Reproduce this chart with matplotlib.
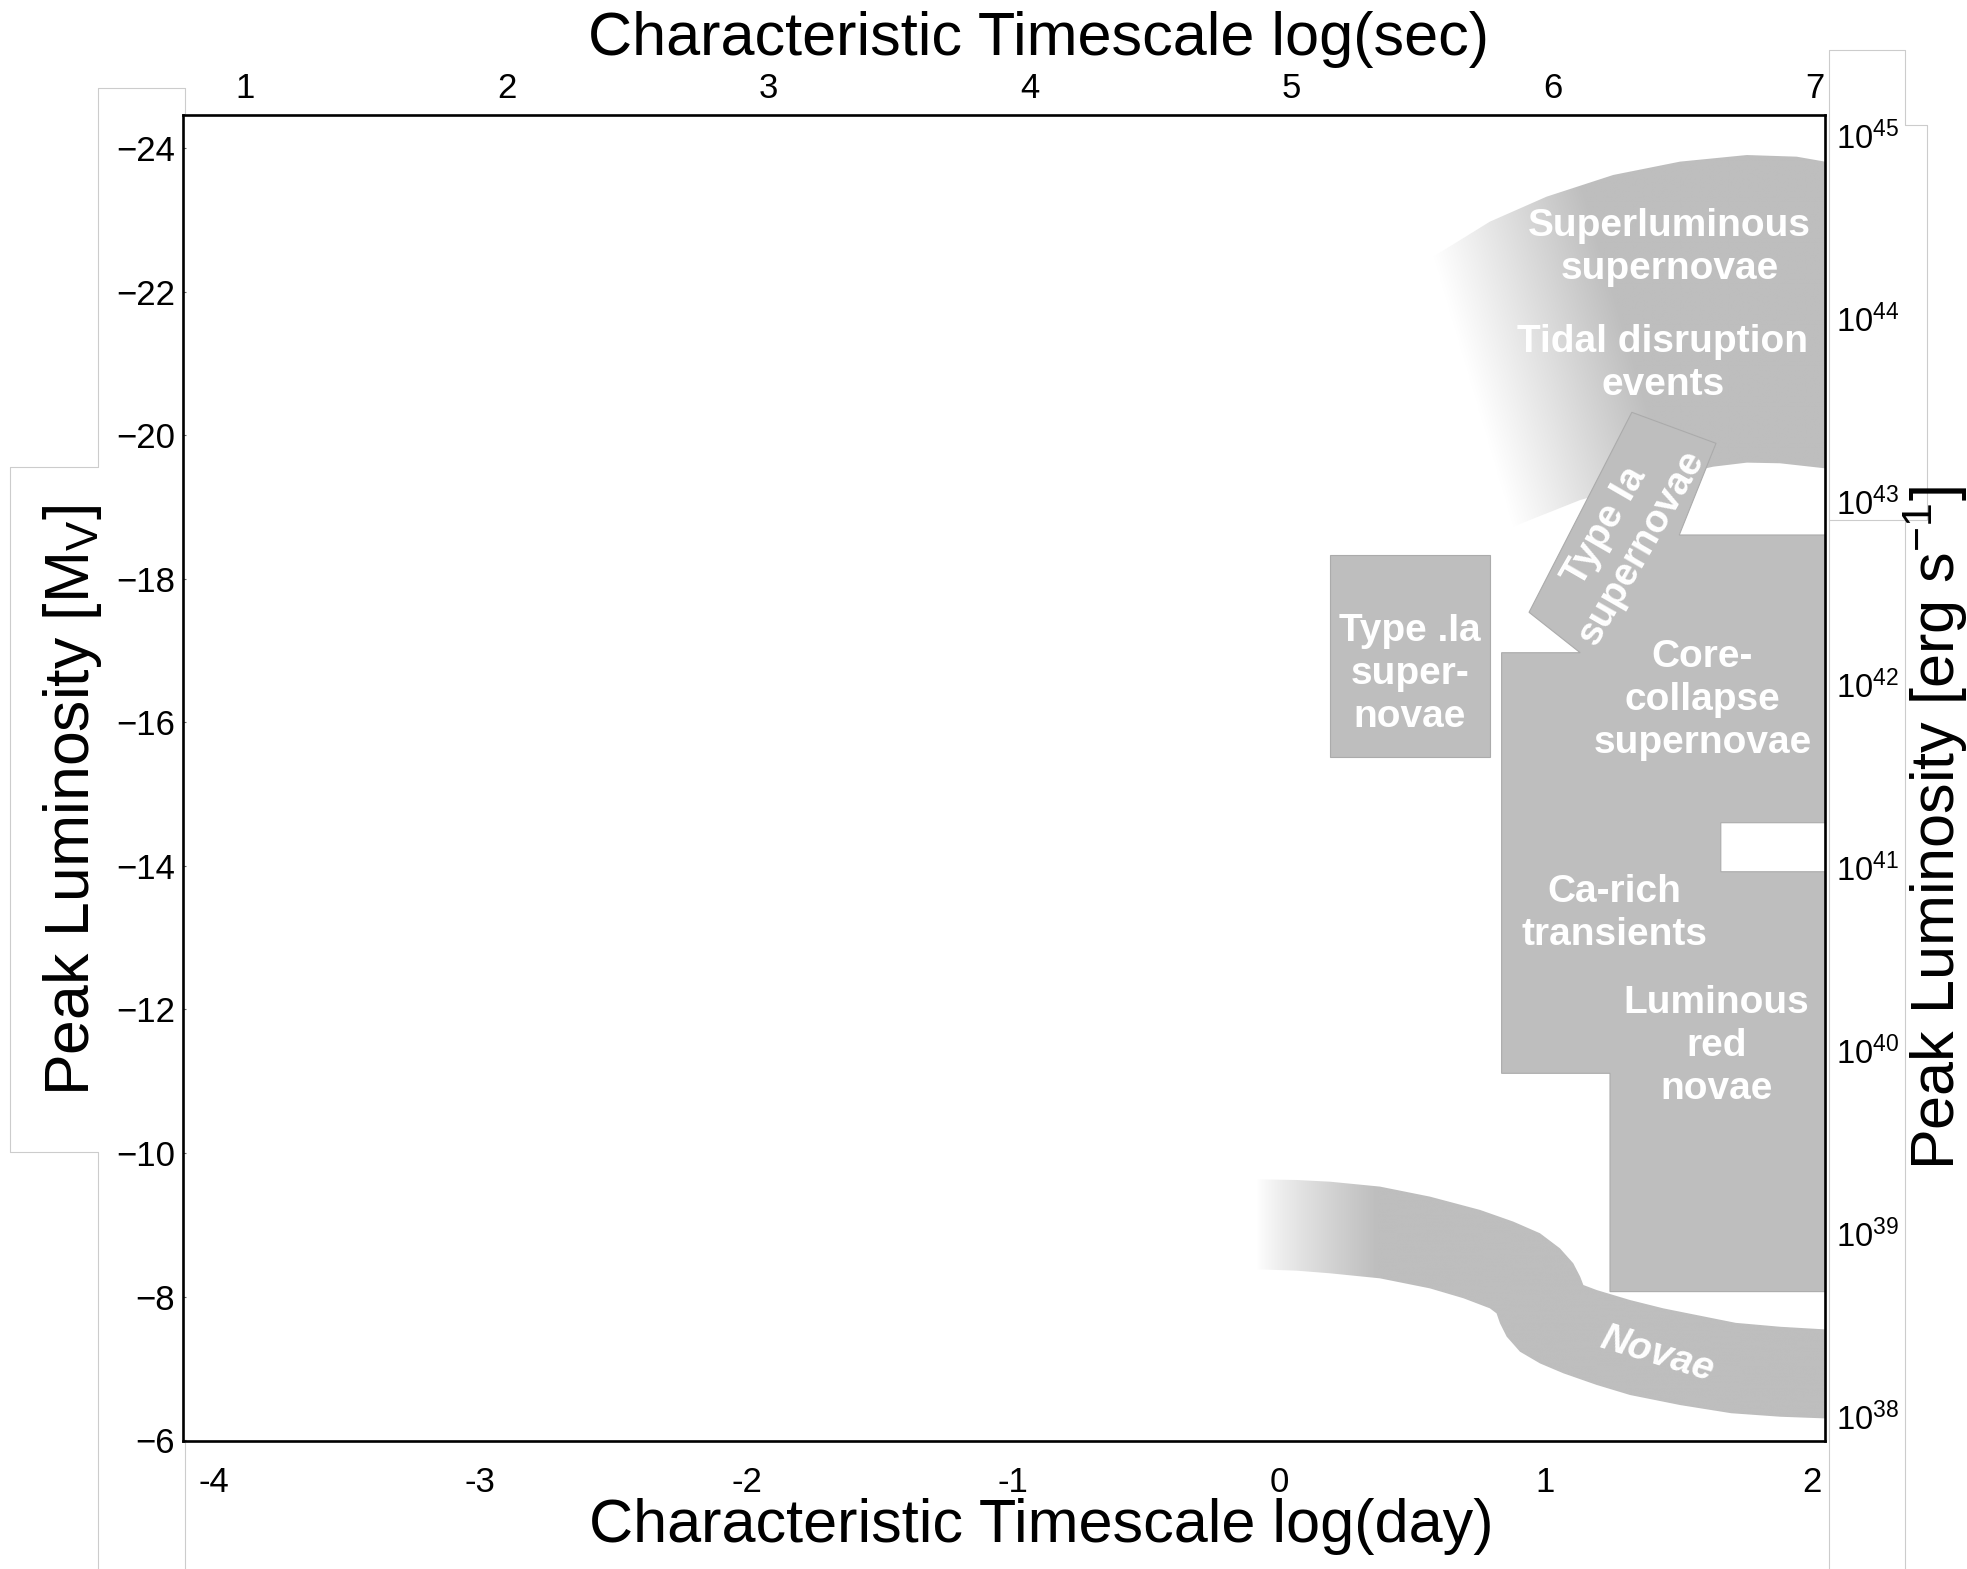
import numpy as np
import matplotlib
matplotlib.use("Agg")
import matplotlib.pyplot as plt
from matplotlib.patches import Polygon, Rectangle
from matplotlib.colors import LinearSegmentedColormap
from matplotlib.lines import Line2D

plt.rcParams['font.family'] = ['Liberation Sans', 'DejaVu Sans']
plt.rcParams['mathtext.fontset'] = 'custom'
plt.rcParams['mathtext.rm'] = 'Liberation Sans'
plt.rcParams['mathtext.it'] = 'Liberation Sans:italic'
plt.rcParams['mathtext.bf'] = 'Liberation Sans:bold'

# ---- axis ticks -------------------------------------------------------
day_ticks = [-4, -3, -2, -1, 0, 1, 2]
day_labels = ['-4', '-3', '-2', '-1', '0', '1', '2']
sec_ticks = [1, 2, 3, 4, 5, 6, 7]
mag_ticks = [-24, -22, -20, -18, -16, -14, -12, -10, -8, -6]
lum_exponents = [38, 39, 40, 41, 42, 43, 44, 45]

# ---- transient classes (x: log timescale [day], y: peak M_V) ----------
# Type .Ia supernovae box
dot_ia_x = [0.19, 0.79]
dot_ia_mag = [-18.33, -15.51]

# Type Ia band joined with core-collapse, Ca-rich and luminous red novae
sn_region_x = [1.324, 1.640, 1.502, 2.20, 2.20, 1.658, 1.658, 2.20, 2.20,
               1.242, 1.242, 0.835, 0.835, 1.130, 0.938]
sn_region_mag = [-20.318, -19.886, -18.609, -18.609, -14.601, -14.601,
                 -13.918, -13.918, -8.069, -8.069, -11.110, -11.110,
                 -16.969, -16.969, -17.532]

# superluminous supernovae / tidal disruption events arc
slsn_outer_x = [0.579, 0.791, 1.004, 1.254, 1.505, 1.756, 1.943, 2.049, 2.145]
slsn_outer_mag = [-22.487, -22.974, -23.322, -23.624, -23.810, -23.902,
                  -23.879, -23.810, -23.738]
slsn_inner_x = [0.879, 1.130, 1.377, 1.630, 1.756, 1.880, 2.049, 2.145]
slsn_inner_mag = [-18.726, -19.096, -19.351, -19.561, -19.617, -19.608,
                  -19.538, -19.491]

# classical novae band
novae_upper_x = [-0.084, 0.065, 0.191, 0.378, 0.566, 0.754, 0.879, 0.979,
                 1.054, 1.104, 1.130, 1.142, 1.192, 1.317, 1.442, 1.505,
                 1.714, 1.882, 2.049, 2.145]
novae_upper_mag = [-9.633, -9.624, -9.600, -9.532, -9.392, -9.207, -9.044,
                   -8.882, -8.672, -8.464, -8.277, -8.161, -8.091, -7.952,
                   -7.836, -7.789, -7.634, -7.579, -7.543, -7.528]
novae_lower_x = [-0.084, 0.065, 0.191, 0.378, 0.566, 0.692, 0.791, 0.816,
                 0.829, 0.854, 0.904, 0.979, 1.067, 1.192, 1.317, 1.442,
                 1.505, 1.697, 1.882, 2.049, 2.145]
novae_lower_mag = [-8.380, -8.361, -8.324, -8.254, -8.114, -7.976, -7.836,
                   -7.766, -7.627, -7.442, -7.232, -7.069, -6.931, -6.769,
                   -6.629, -6.536, -6.489, -6.375, -6.326, -6.303, -6.297]

class_names = ['Superluminous\nsupernovae', 'Tidal disruption\nevents',
               'Type Ia\nsupernovae', 'Type .Ia\nsuper-\nnovae',
               'Core-\ncollapse\nsupernovae', 'Ca-rich\ntransients',
               'Luminous\nred\nnovae', 'Novae']
name_pos = [(1.466, -22.62), (1.440, -21.003), (1.292, -18.586),
            (0.491, -16.677), (1.589, -16.311), (1.259, -13.340),
            (1.641, -11.487), (1.419, -7.188)]
name_rot = [0, 0, 60, 0, 0, 0, 0, -17]

FILL = '#bebebe'
EDGE = '#ababab'
fade = LinearSegmentedColormap.from_list('fade', ['#ffffff', FILL])

W, H = 1967, 1569
fig = plt.figure(figsize=(W / 100, H / 100), dpi=100, facecolor='white')
ax = fig.add_axes([183.2 / W, 1 - 1440.5 / H, (1825.3 - 183.2) / W,
                   (1440.5 - 115.4) / H])
xlim = (-4.1154, 2.0504)
ylim = (-5.995, -24.454)


def faded_band(xs, ms, t_func, extent):
    patch = Polygon(np.column_stack([xs, ms]), closed=True,
                    facecolor='none', edgecolor='none')
    ax.add_patch(patch)
    gx = np.linspace(extent[0], extent[1], 500)
    gm = np.linspace(extent[2], extent[3], 500)
    XX, MM = np.meshgrid(gx, gm)
    img = ax.imshow(t_func(XX, MM), cmap=fade, vmin=0, vmax=1,
                    extent=extent, origin='lower', aspect='auto',
                    interpolation='bilinear', zorder=1)
    img.set_clip_path(patch)


# SLSN / TDE arc, fading towards short timescales
arc_x = slsn_outer_x + slsn_inner_x[::-1]
arc_m = slsn_outer_mag + slsn_inner_mag[::-1]
ax0, am0 = slsn_outer_x[0], slsn_outer_mag[0]
tilt = (slsn_inner_x[0] - ax0) / (slsn_inner_mag[0] - am0)
faded_band(arc_x, arc_m,
           lambda X, M: np.clip((X - (ax0 + (M - am0) * tilt)) / 0.64, 0, 1),
           (0.5, 2.2, -24.2, -18.5))

# novae band, fading towards short timescales
nov_x = novae_upper_x + novae_lower_x[::-1]
nov_m = novae_upper_mag + novae_lower_mag[::-1]
nx0 = novae_upper_x[0]
faded_band(nov_x, nov_m,
           lambda X, M: np.clip((X - nx0) / 0.45, 0, 1) ** 0.8,
           (-0.2, 2.2, -9.8, -6.1))

ax.add_patch(Polygon(np.column_stack([sn_region_x, sn_region_mag]),
                     closed=True, facecolor=FILL, edgecolor=EDGE,
                     linewidth=0.8, zorder=2))
ax.add_patch(Rectangle((dot_ia_x[0], dot_ia_mag[0]),
                       dot_ia_x[1] - dot_ia_x[0], dot_ia_mag[1] - dot_ia_mag[0],
                       facecolor=FILL, edgecolor=EDGE, linewidth=0.8, zorder=2))

for name, (px, pm), rot in zip(class_names, name_pos, name_rot):
    style = 'italic' if name == 'Novae' else 'normal'
    ax.text(px, pm, name, color='white', fontsize=28, fontweight='bold',
            fontstyle=style, ha='center', va='center', rotation=rot,
            rotation_mode='anchor', linespacing=1.25, zorder=3)

ax.set_xlim(*xlim)
ax.set_ylim(*ylim)
ax.set_xticks(day_ticks)
ax.set_xticklabels(day_labels)
ax.set_yticks(mag_ticks)
ax.tick_params(axis='x', bottom=True, top=False, direction='in', length=0,
               pad=18, labelsize=25)
ax.tick_params(axis='y', left=True, right=False, direction='in', length=2.5,
               width=0.8, color='#666666', pad=6, labelsize=25)
for sp in ax.spines.values():
    sp.set_linewidth(1.9)
    sp.set_color('black')
    sp.set_zorder(5)

ax_top = ax.twiny()
ax_top.set_xlim(0.7626, 7.0408)
ax_top.set_xticks(sec_ticks)
ax_top.tick_params(axis='x', top=True, bottom=False, labeltop=True,
                   labelbottom=False, length=0, pad=7.3, labelsize=25)

ax_r = ax.twinx()
ax_r.set_ylim(37.868, 45.110)
ax_r.set_yticks(lum_exponents)
ax_r.set_yticklabels([r'$\mathregular{10^{%d}}$' % e for e in lum_exponents])
ax_r.tick_params(axis='y', right=True, left=False, labelright=True,
                 labelleft=False, length=0, pad=8, labelsize=23.5)
for extra in (ax_top, ax_r):
    for sp in extra.spines.values():
        sp.set_visible(False)

# axis titles
fig.text(1038.7 / W, 1 - 39.5 / H, 'Characteristic Timescale log(sec)',
         fontsize=44, ha='center', va='center')
fig.text(1041 / W, 1 - 1526.5 / H, 'Characteristic Timescale log(day)',
         fontsize=44, ha='center', va='center')
fig.text(72.8 / W, 1 - 799.8 / H, r'Peak Luminosity [M$_{\mathregular{V}}$]',
         fontsize=45, ha='center', va='center', rotation=90)
fig.text(1936 / W, 1 - 828 / H,
         r'Peak Luminosity [erg s$^{\mathregular{-1}}$]',
         fontsize=44, ha='center', va='center', rotation=90)

# thin panel frames around the label columns
frames = [
    [(185.3, 115.4), (185.3, 87.7), (98.2, 87.7), (98.2, 466.7),
     (9.8, 466.7), (9.8, 1151.7), (98.2, 1151.7), (98.2, 1569)],
    [(185.3, 1441), (185.3, 1569)],
    [(1829.3, 1569), (1829.3, 50), (1905, 50), (1905, 125), (1927.3, 125),
     (1927.3, 520), (1905, 520), (1905, 1569)],
    [(1829.3, 520), (1905, 520)],
]
for pts in frames:
    xs = [p[0] / W for p in pts]
    ys = [1 - p[1] / H for p in pts]
    fig.add_artist(Line2D(xs, ys, transform=fig.transFigure,
                          color='#cccccc', linewidth=0.8, zorder=0))

fig.savefig('out.png', dpi=100, facecolor='white')
